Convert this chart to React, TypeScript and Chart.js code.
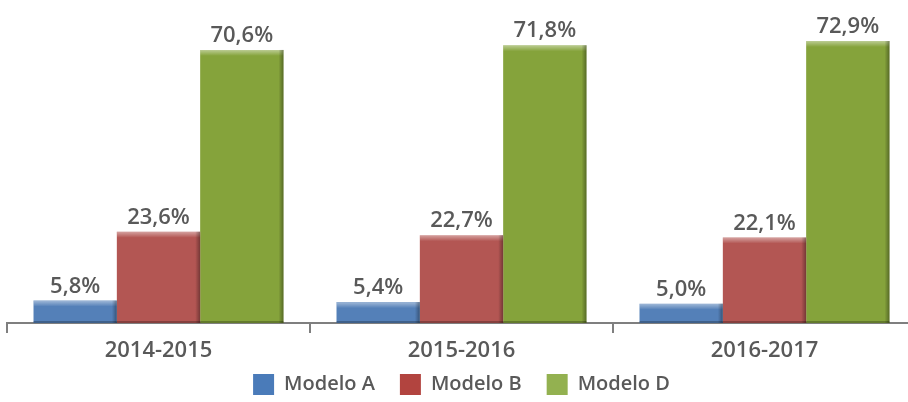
import React, { useEffect, useRef } from "react";
import { Chart, registerables } from "chart.js";

Chart.register(...registerables);

const categories = ["2014-2015", "2015-2016", "2016-2017"];
const modeloA = [5.8, 5.4, 5.0];
const modeloB = [23.6, 22.7, 22.1];
const modeloD = [70.6, 71.8, 72.9];
const seriesNames = ["Modelo A", "Modelo B", "Modelo D"];

const TEXT = "#595959";
const FONT = "'Open Sans', 'DejaVu Sans', sans-serif";
const barColors = ["#5480b8", "#b35653", "#85a33b"];
const legendColors = ["#4a7bb9", "#b2443f", "#93b150"];

const shadePlugin = {
  id: "barShade",
  afterDatasetsDraw(chart: any) {
    const ctx = chart.ctx;
    ctx.save();
    chart.data.datasets.forEach((_ds: any, i: number) => {
      const meta = chart.getDatasetMeta(i);
      meta.data.forEach((bar: any) => {
        const { x, y, base, width } = bar.getProps(["x", "y", "base", "width"], true);
        const l = x - width / 2;
        const r = x + width / 2;
        const gt = ctx.createLinearGradient(0, y, 0, y + 6);
        gt.addColorStop(0, "rgba(255,255,255,0.45)");
        gt.addColorStop(1, "rgba(255,255,255,0)");
        ctx.fillStyle = gt;
        ctx.fillRect(l, y, width, 6);
        const gr = ctx.createLinearGradient(r - 5, 0, r, 0);
        gr.addColorStop(0, "rgba(0,0,0,0)");
        gr.addColorStop(1, "rgba(0,0,0,0.35)");
        ctx.fillStyle = gr;
        ctx.fillRect(r - 5, y, 5, base - y);
        ctx.fillStyle = "rgba(0,0,0,0.25)";
        ctx.fillRect(l, base - 2, width, 2);
      });
    });
    ctx.restore();
  },
};

const labelPlugin = {
  id: "valueLabels",
  afterDatasetsDraw(chart: any) {
    const ctx = chart.ctx;
    ctx.save();
    ctx.font = `600 22px ${FONT}`;
    ctx.fillStyle = TEXT;
    ctx.textAlign = "center";
    ctx.textBaseline = "alphabetic";
    chart.data.datasets.forEach((ds: any, i: number) => {
      const meta = chart.getDatasetMeta(i);
      meta.data.forEach((bar: any, j: number) => {
        const v = ds.data[j] as number;
        ctx.fillText(v.toFixed(1).replace(".", ",") + "%", bar.x, bar.y - 8);
      });
    });
    ctx.restore();
  },
};

const legendFitPlugin = {
  id: "legendFit",
  beforeInit(chart: any) {
    const legend = chart.legend;
    if (!legend) return;
    const orig = legend.fit;
    legend.fit = function () {
      orig.call(this);
      this.height = 38;
    };
  },
  afterLayout(chart: any) {
    const legend = chart.legend;
    if (!legend) return;
    legend.top -= 15;
    legend.height += 15;
  },
};

export default function App() {
  const ref = useRef<HTMLCanvasElement>(null);
  useEffect(() => {
    const chart = new Chart(ref.current!, {
      type: "bar",
      data: {
        labels: categories,
        datasets: [
          { label: seriesNames[0], data: modeloA, backgroundColor: barColors[0] },
          { label: seriesNames[1], data: modeloB, backgroundColor: barColors[1] },
          { label: seriesNames[2], data: modeloD, backgroundColor: barColors[2] },
        ],
      },
      options: {
        animation: false,
        responsive: false,
        maintainAspectRatio: false,
        layout: { padding: { left: 7, right: 0, top: 0, bottom: 0 } },
        datasets: {
          bar: { categoryPercentage: 0.825, barPercentage: 1 },
        },
        scales: {
          x: {
            afterFit: (scale: any) => {
              scale.height = 41;
            },
            grid: {
              display: true,
              offset: true,
              drawOnChartArea: false,
              drawTicks: true,
              tickLength: 10,
              color: "#7f7f7f",
              lineWidth: 2,
            },
            border: { display: true, color: "#7f7f7f", width: 2 },
            ticks: {
              color: TEXT,
              font: { family: FONT, size: 22, weight: "600" },
              padding: 5,
            },
          },
          y: {
            display: false,
            min: 0,
            max: 83.5,
          },
        },
        plugins: {
          legend: {
            position: "bottom",
            labels: {
              boxWidth: 21,
              boxHeight: 21,
              padding: 25,
              color: TEXT,
              font: { family: FONT, size: 20, weight: "600" },
              generateLabels: (ch: any) =>
                ch.data.datasets.map((ds: any, i: number) => ({
                  text: ds.label,
                  fillStyle: legendColors[i],
                  strokeStyle: legendColors[i],
                  lineWidth: 0,
                  fontColor: TEXT,
                  hidden: false,
                  datasetIndex: i,
                })),
            },
          },
          tooltip: { enabled: false },
        },
      },
      plugins: [legendFitPlugin, shadePlugin, labelPlugin],
    });
    return () => chart.destroy();
  }, []);
  return (
    <div style={{ position: "fixed", left: 0, top: 0, width: 908, height: 402, overflow: "hidden", background: "#fff" }}>
      <canvas ref={ref} width={916} height={402} />
    </div>
  );
}
